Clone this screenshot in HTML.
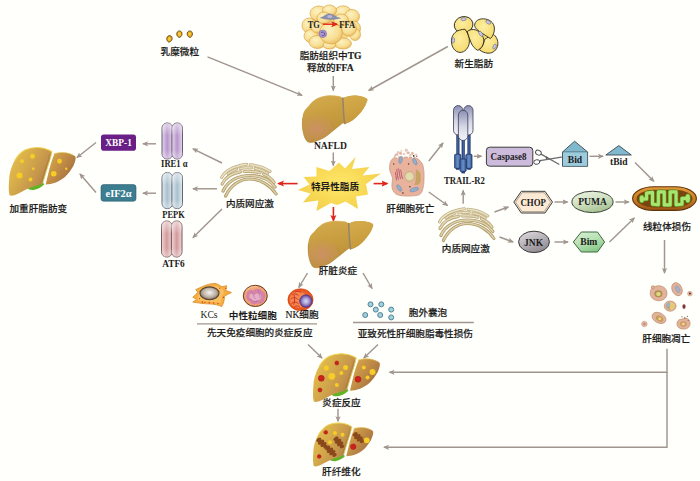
<!DOCTYPE html>
<html lang="zh">
<head>
<meta charset="utf-8">
<title>NAFLD 特异性脂质 机制示意图</title>
<style>
html,body{margin:0;padding:0;background:#fffffb;}
body{width:700px;height:481px;overflow:hidden;}
svg{display:block;}
.cn{font-family:"Liberation Sans","Noto Sans CJK SC",sans-serif;font-size:9.6px;font-weight:500;fill:#1c1c1c;stroke:#1c1c1c;stroke-width:0.18px;}
.cb{font-family:"Liberation Sans","Noto Sans CJK SC",sans-serif;font-size:9.6px;font-weight:700;fill:#1c1c1c;}
.la{font-family:"Liberation Serif","Noto Serif CJK SC",serif;font-size:9.6px;fill:#1c1c1c;}
.lb{font-family:"Liberation Serif","Noto Serif CJK SC",serif;font-size:9.6px;font-weight:bold;fill:#1c1c1c;}
.wb{font-family:"Liberation Serif",serif;font-size:10px;font-weight:bold;fill:#fff;}
.ga{stroke:#a1968f;stroke-width:1.45;fill:none;marker-end:url(#ag);}
.gl{stroke:#a1968f;stroke-width:1.3;fill:none;}
.ra{stroke:#e0261c;stroke-width:1.6;fill:none;marker-end:url(#ar);}
</style>
</head>
<body>
<svg width="700" height="481" viewBox="0 0 700 481">
<rect width="700" height="481" fill="#fffffb"/>
<defs>
<marker id="ag" markerWidth="8" markerHeight="8" refX="5" refY="3" orient="auto" markerUnits="userSpaceOnUse"><path d="M0,0.4 L6,3 L0,5.6 L1.3,3 Z" fill="#a1968f"/></marker>
<marker id="ar" markerWidth="8" markerHeight="8" refX="5.5" refY="3.5" orient="auto" markerUnits="userSpaceOnUse"><path d="M0,0.5 L7,3.5 L0,6.5 L1.4,3.5 Z" fill="#e0261c"/></marker>
<linearGradient id="gLiver" x1="0" y1="0" x2="0.35" y2="1">
<stop offset="0" stop-color="#d4ac4e"/><stop offset="0.45" stop-color="#c89e40"/><stop offset="1" stop-color="#b88e36"/>
</linearGradient>
<radialGradient id="gLiverPink" cx="0.22" cy="0.72" r="0.35">
<stop offset="0" stop-color="#cf9070" stop-opacity="0.75"/><stop offset="1" stop-color="#cf9070" stop-opacity="0"/>
</radialGradient>
<linearGradient id="gLobe" x1="0" y1="0" x2="0.3" y2="1">
<stop offset="0" stop-color="#d6ac4c"/><stop offset="1" stop-color="#c69a3c"/>
</linearGradient>
<linearGradient id="gFat" x1="0" y1="0" x2="1" y2="0.6">
<stop offset="0" stop-color="#eac64e"/><stop offset="0.4" stop-color="#d8ae4a"/><stop offset="0.75" stop-color="#c4944c"/><stop offset="1" stop-color="#aa7a42"/>
</linearGradient>
<linearGradient id="gFatL" x1="0" y1="0" x2="1" y2="0.7">
<stop offset="0" stop-color="#deb04a"/><stop offset="0.5" stop-color="#c28e46"/><stop offset="1" stop-color="#9e6a40"/>
</linearGradient>
<linearGradient id="gPurple" x1="0" y1="0" x2="1" y2="0"><stop offset="0" stop-color="#e4d6ec"/><stop offset="0.5" stop-color="#b896cc"/><stop offset="1" stop-color="#e4d6ec"/></linearGradient>
<linearGradient id="gBlueG" x1="0" y1="0" x2="1" y2="0"><stop offset="0" stop-color="#dfe9ee"/><stop offset="0.5" stop-color="#a9c0cd"/><stop offset="1" stop-color="#dfe9ee"/></linearGradient>
<linearGradient id="gPink" x1="0" y1="0" x2="1" y2="0"><stop offset="0" stop-color="#f0d6d6"/><stop offset="0.5" stop-color="#d49a9c"/><stop offset="1" stop-color="#f0d6d6"/></linearGradient>
<linearGradient id="gTrail" x1="0" y1="0" x2="0" y2="1">
<stop offset="0" stop-color="#8c90b4"/><stop offset="0.55" stop-color="#d6d8e6"/><stop offset="1" stop-color="#f4f4f8"/>
</linearGradient>
<linearGradient id="gTrailB" x1="0" y1="0" x2="1" y2="0">
<stop offset="0" stop-color="#3a5c9c"/><stop offset="0.5" stop-color="#6a90c8"/><stop offset="1" stop-color="#34548e"/>
</linearGradient>
<linearGradient id="gPuma" x1="0.2" y1="0" x2="0.7" y2="1"><stop offset="0" stop-color="#eaf2e0"/><stop offset="0.5" stop-color="#cfdfc0"/><stop offset="1" stop-color="#a4bf8e"/></linearGradient>
<linearGradient id="gJnk" x1="0.2" y1="0" x2="0.75" y2="1"><stop offset="0" stop-color="#dcd8de"/><stop offset="0.5" stop-color="#b4b0b6"/><stop offset="1" stop-color="#8a868c"/></linearGradient>
<radialGradient id="gStar" cx="0.5" cy="0.5" r="0.55">
<stop offset="0" stop-color="#ffe76a"/><stop offset="0.6" stop-color="#f8d955"/><stop offset="1" stop-color="#f1cf4c"/>
</radialGradient>
<radialGradient id="gFatCell" cx="0.4" cy="0.35" r="0.7">
<stop offset="0" stop-color="#fdf2c2"/><stop offset="0.65" stop-color="#f7de92"/><stop offset="1" stop-color="#eaba60"/>
</radialGradient>
<radialGradient id="gNew" cx="0.45" cy="0.4" r="0.7">
<stop offset="0" stop-color="#fdeea0"/><stop offset="1" stop-color="#f4d868"/>
</radialGradient>
<linearGradient id="gMito" x1="0" y1="0" x2="0" y2="1">
<stop offset="0" stop-color="#e09a38"/><stop offset="0.5" stop-color="#cc8026"/><stop offset="1" stop-color="#9a5414"/>
</linearGradient>
<radialGradient id="gKc" cx="0.5" cy="0.45" r="0.6">
<stop offset="0" stop-color="#f6f4f2"/><stop offset="0.55" stop-color="#c0b4a8"/><stop offset="1" stop-color="#74614e"/>
</radialGradient>
<radialGradient id="gNkN" cx="0.5" cy="0.5" r="0.5">
<stop offset="0" stop-color="#d8dcee"/><stop offset="0.5" stop-color="#a89cd4"/><stop offset="1" stop-color="#5a3890"/>
</radialGradient>
<radialGradient id="gNk" cx="0.5" cy="0.5" r="0.55">
<stop offset="0" stop-color="#f47a38"/><stop offset="0.8" stop-color="#ea5a22"/><stop offset="1" stop-color="#d84414"/>
</radialGradient>
<radialGradient id="gNeu" cx="0.5" cy="0.5" r="0.55">
<stop offset="0" stop-color="#f6c0a8"/><stop offset="0.8" stop-color="#f0a070"/><stop offset="1" stop-color="#e08848"/>
</radialGradient>
<filter id="fSoft" x="-20%" y="-20%" width="140%" height="140%"><feGaussianBlur stdDeviation="0.35"/></filter>
<linearGradient id="gPillV" x1="0" y1="0" x2="0" y2="1"><stop offset="0" stop-color="#fff" stop-opacity="0.55"/><stop offset="0.35" stop-color="#fff" stop-opacity="0"/><stop offset="0.75" stop-color="#fff" stop-opacity="0"/><stop offset="1" stop-color="#fff" stop-opacity="0.4"/></linearGradient>
<linearGradient id="gBim" x1="0.2" y1="0" x2="0.7" y2="1"><stop offset="0" stop-color="#d6efd2"/><stop offset="0.5" stop-color="#b4e0b0"/><stop offset="1" stop-color="#84c684"/></linearGradient>
</defs>
<g id="arrows">
<path class="ga" d="M207.5,56.8 L302,95.3"/>
<path class="ga" d="M333.3,76 L333.3,90.5"/>
<path class="ga" d="M447.8,46.5 L368.8,90.5"/>
<path class="ga" d="M333.3,152.5 L333.3,165.5"/>
<path class="ga" d="M222,163 L193,148.8"/>
<path class="ga" d="M217,188.8 L193,188.8"/>
<path class="ga" d="M222,209 L193,237.6"/>
<path class="ga" d="M156,143.8 L143,143.8"/>
<path class="ga" d="M156,193.2 L143,193.2"/>
<path class="ga" d="M96,142.5 L77,157.5"/>
<path class="ga" d="M96,192.5 L80,174"/>
<path class="ga" d="M428.8,161 L443,143"/>
<path class="ga" d="M428.8,192 L447.5,205.5"/>
<path class="ga" d="M463.2,203.8 L463.2,190.5"/>
<path class="ga" d="M473.8,156.3 L481.5,156.3"/>
<path class="ga" d="M589.5,156.3 L603,156.3"/>
<path class="ga" d="M635,162.5 L653.8,181.3"/>
<path class="ga" d="M554.5,202 L567.5,202"/>
<path class="ga" d="M615.5,202 L628.8,202"/>
<path class="ga" d="M494.5,212 L508.3,207"/>
<path class="ga" d="M499.5,237 L513,242"/>
<path class="ga" d="M554.5,242 L568,242"/>
<path class="ga" d="M609.5,242 L634.3,218"/>
<path class="ga" d="M664.5,240 L664.5,273"/>
<path class="ga" d="M307.5,273 L298.8,287.5"/>
<path class="ga" d="M363,273 L372,288.5"/>
<path class="ga" d="M308,344.5 L322,358"/>
<path class="ga" d="M378,344.5 L363.8,358"/>
<path class="ga" d="M338,408.8 L338,421.3"/>
<path class="ga" d="M667,348.8 L667,372.3 L389.5,372.3"/>
<path class="ga" d="M667,372 L667,447.3 L384,447.3"/>
<path class="gl" d="M197,323.8 L317,323.8"/>
<path class="gl" d="M353,322.5 L473.8,322.5"/>
</g>
<g id="redarrows">
<path class="ra" d="M297.6,183.6 L278.5,183.6"/>
<path class="ra" d="M373.6,183.6 L387,183.6"/>
<path class="ra" d="M333.4,207 L333.4,220.5"/>
</g>
<defs>
<g id="liverN">
<path d="M342.2,97.7 C340.5,96.6 339.5,96.3 338.4,96.2 C335,95.6 331.5,95.5 328.5,95.6 C326,95.8 323.4,96.2 321,96.9 C318.6,97.7 316.6,98.7 314.7,100 C312.2,101.7 310.2,103.8 308.5,106.2 C307.2,107.8 305.8,108.8 304.7,110.4 C303.8,112 303.2,113.4 302.9,115 C302.4,117 302.2,119 302.2,121.2 C302,125 302.4,129.5 303.5,133.7 C304,136 304.8,138.2 306,140 C306.9,141.4 308.2,142.2 309.7,142.4 C311.8,142.6 314,142 316,141.2 C318.6,140.3 321,139.2 323.5,138 C326.2,136.4 328.6,134.4 331,132.4 C333,130.8 335.2,129.1 337.2,127.5 C339,126 341,124.4 342.8,123 L344,123.7 L346,123.5 C348,122.8 350.2,121.8 352.2,120.6 C354.4,119 356.4,117 358.4,115 C360.2,113 361.9,110.9 363.4,108.7 C364.6,106.7 365.8,104.6 366.5,102.5 C367,101.4 367.5,100.4 367.4,99.4 C366.4,98 365,97.4 363.4,96.9 C361,96.2 358.5,95.8 356,95.6 C353.4,95.5 350.8,95.7 348.4,96.2 C346.6,96.6 345,97.3 343.4,98.1 Z" fill="url(#gLiver)"/>
<path d="M342.2,97.7 C340.5,96.6 339.5,96.3 338.4,96.2 C335,95.6 331.5,95.5 328.5,95.6 C326,95.8 323.4,96.2 321,96.9 C318.6,97.7 316.6,98.7 314.7,100 C312.2,101.7 310.2,103.8 308.5,106.2 C307.2,107.8 305.8,108.8 304.7,110.4 C303.8,112 303.2,113.4 302.9,115 C302.4,117 302.2,119 302.2,121.2 C302,125 302.4,129.5 303.5,133.7 C304,136 304.8,138.2 306,140 C306.9,141.4 308.2,142.2 309.7,142.4 C311.8,142.6 314,142 316,141.2 C318.6,140.3 321,139.2 323.5,138 C326.2,136.4 328.6,134.4 331,132.4 C333,130.8 335.2,129.1 337.2,127.5 C339,126 341,124.4 342.8,123 L344,123.7 L346,123.5 C348,122.8 350.2,121.8 352.2,120.6 C354.4,119 356.4,117 358.4,115 C360.2,113 361.9,110.9 363.4,108.7 C364.6,106.7 365.8,104.6 366.5,102.5 C367,101.4 367.5,100.4 367.4,99.4 C366.4,98 365,97.4 363.4,96.9 C361,96.2 358.5,95.8 356,95.6 C353.4,95.5 350.8,95.7 348.4,96.2 C346.6,96.6 345,97.3 343.4,98.1 Z" fill="url(#gLiverPink)"/>
<path d="M343.4,98.1 C345,97.3 346.6,96.6 348.4,96.2 C350.8,95.7 353.4,95.5 356,95.6 C358.5,95.8 361,96.2 363.4,96.9 C365,97.4 366.4,98 367.4,99.4 C367.5,100.4 367,101.4 366.5,102.5 C365.8,104.6 364.6,106.7 363.4,108.7 C361.9,110.9 360.2,113 358.4,115 C356.4,117 354.4,119 352.2,120.6 C350.2,121.8 348,122.8 346,123.5 L344.9,123.7 C344.4,122 344.1,120 344,118 C343.6,112 343.2,105 343.4,98.1 Z" fill="url(#gLobe)"/>
<path d="M302.6,118 C302,125 302.4,129.5 303.5,133.7 C304,136 304.8,138.2 306,140 C306.9,141.4 308.2,142.2 309.7,142.4 C311.8,142.6 314,142 316,141.2 C318.6,140.3 321,139.2 323.5,138 C326.2,136.4 328.6,134.4 331,132.4 C335,129.2 339,126 342.8,123" fill="none" stroke="#a47e2c" stroke-width="1" opacity="0.45"/>
<path d="M342.9,98 C343,105 343.6,112 344,118 C344.1,120 344.4,122 344.9,123.6" stroke="#94846c" stroke-width="1.5" fill="none" stroke-linecap="round"/>
<path d="M330.6,121.4 C332.6,124.6 333.8,127.4 334.2,129.8" stroke="#b38a38" stroke-width="0.7" fill="none" opacity="0.8"/>
<path d="M314.7,100 C318.6,97.4 323.4,96.2 328.5,95.8 C332,95.6 336,95.8 339.5,96.5" stroke="#dcb65c" stroke-width="0.8" fill="none" opacity="0.7"/>
</g>
</defs>
<g id="star">
<polygon points="355.6,157 352,169 369.4,167 362.5,175.5 381,173.6 366,184 368,194.4 356,196.5 358,209 345.5,201.5 337.5,205 331,203 316.4,211 318.5,200.5 303,202.4 310.5,193.5 298,190 309.5,184.5 303.6,177 316.5,176.5 316.4,167 329.5,171 339,162.4 345,168.5" fill="url(#gStar)"/>
</g>
<use href="#liverN"/>
<use href="#liverN" transform="translate(5.8,125.4)"/>
<defs>
<g id="pill2">
<rect x="0" y="0" width="10.6" height="36" rx="5" ry="5.2"/>
<rect x="9.9" y="0" width="10.6" height="36" rx="5" ry="5.2"/>
</g>
<g id="er">
<g fill="none" stroke-linecap="round">
<path d="M5,35.5 C10,25 19,18.5 29,18.5 C40,18.5 50,25 55.5,33.5" stroke="#ae9a68" stroke-width="3.2"/>
<path d="M5,35.5 C10,25 19,18.5 29,18.5 C40,18.5 50,25 55.5,33.5" stroke="#dccfa6" stroke-width="1.5"/>
<path d="M2.5,30.5 C7,20 18,15 29,15 C40,15 49,19 54.5,26.5" stroke="#b09c6c" stroke-width="3.2"/>
<path d="M2.5,30.5 C7,20 18,15 29,15 C40,15 49,19 54.5,26.5" stroke="#e0d4ac" stroke-width="1.5"/>
<path d="M1.5,23.5 C5,16.5 12,12.5 20,11.3" stroke="#b9a678" stroke-width="3.2"/>
<path d="M1.5,23.5 C5,16.5 12,12.5 20,11.3" stroke="#e4d9b4" stroke-width="1.5"/>
<path d="M23.5,11 C29,10.6 35,11 39.5,12.2" stroke="#b9a678" stroke-width="3.2"/>
<path d="M23.5,11 C29,10.6 35,11 39.5,12.2" stroke="#e4d9b4" stroke-width="1.5"/>
<path d="M43,13.5 C47.5,15.5 51,18.5 53.5,22" stroke="#b9a678" stroke-width="3.2"/>
<path d="M43,13.5 C47.5,15.5 51,18.5 53.5,22" stroke="#e4d9b4" stroke-width="1.5"/>
<path d="M7.5,13 C10,11 13,9.5 16,8.6" stroke="#bcaa7e" stroke-width="3"/>
<path d="M7.5,13 C10,11 13,9.5 16,8.6" stroke="#e8deba" stroke-width="1.5"/>
<path d="M19.5,8 C23,7.3 27,7.2 31,7.5" stroke="#bcaa7e" stroke-width="3"/>
<path d="M19.5,8 C23,7.3 27,7.2 31,7.5" stroke="#e8deba" stroke-width="1.5"/>
<path d="M34.5,8 C39,8.8 43.5,10.5 47,13" stroke="#bcaa7e" stroke-width="3"/>
<path d="M34.5,8 C39,8.8 43.5,10.5 47,13" stroke="#e8deba" stroke-width="1.5"/>
<path d="M1,17 C4.5,10.5 14,5.5 26,3.8" stroke="#bfae84" stroke-width="3"/>
<path d="M1,17 C4.5,10.5 14,5.5 26,3.8" stroke="#ece3c2" stroke-width="1.5"/>
<path d="M29.5,4.3 C37,4.8 44,7.3 49.5,11" stroke="#bfae84" stroke-width="3"/>
<path d="M29.5,4.3 C37,4.8 44,7.3 49.5,11" stroke="#ece3c2" stroke-width="1.5"/>
</g>
</g>
</defs>
<g id="receptors" stroke-width="0.95">
<use href="#pill2" x="162" y="123" fill="url(#gPurple)" stroke="#5e5468"/>
<use href="#pill2" x="162" y="172.6" fill="url(#gBlueG)" stroke="#566068"/>
<use href="#pill2" x="161.5" y="221" fill="url(#gPink)" stroke="#6e5052"/>
<use href="#pill2" x="162" y="123" fill="url(#gPillV)" stroke="none"/>
<use href="#pill2" x="162" y="172.6" fill="url(#gPillV)" stroke="none"/>
<use href="#pill2" x="161.5" y="221" fill="url(#gPillV)" stroke="none"/>
</g>
<g id="boxes">
<rect x="101" y="134.5" width="35" height="16.2" rx="2.8" fill="#6a1f86"/>
<text class="wb" x="118.6" y="146.2" text-anchor="middle" textLength="26.5" lengthAdjust="spacingAndGlyphs">XBP-1</text>
<rect x="101" y="184.6" width="35" height="16.6" rx="2.6" fill="#3c7e90" stroke="#2c5e6c" stroke-width="0.6"/>
<text class="wb" x="118.6" y="196.6" text-anchor="middle" textLength="26" lengthAdjust="spacingAndGlyphs">eIF2α</text>
</g>
<use href="#er" x="220.6" y="160.5"/>
<use href="#er" x="438.4" y="205"/>
<defs>
<g id="liverF">
<path d="M18.5,40.6 C22,39 28,37.4 34.4,35.2 L35.4,37 C33,39.6 29,41.8 24.6,42.4 C21.8,42.6 19.4,42 18.5,40.6 Z" fill="#62b226"/>
<path d="M0,40 C0.3,33 0.5,30 0.75,27.5 C2,21 4,16 6.25,12.5 C9,8 12.5,4.5 16.25,2.5 C20,0.8 24,0 28.75,0 C33,0 37.5,1.2 41.25,3 L43.25,4.5 C42,10 40.5,15 38.75,20 C37,25.5 35.5,30.5 34.25,35 C32.5,36.8 30.5,37.6 28.75,37.8 C25,38.6 22,39.8 18.75,41.25 C14,43.5 10,46 6.25,47.5 C3,48.6 1.5,48.4 0.75,47.5 C0.2,45 0,43 0,40 Z" fill="url(#gFat)"/>
<path transform="translate(0.7,0)" d="M45,6.25 C48,5.3 51,5 53.75,5 C57.5,5 61,6 63.75,7.5 C65.5,8.3 66.3,9.3 66.25,10.5 C66,13.5 65,16 63.75,18.75 C61.5,22.5 59,26 56.25,28.75 C53,31.5 50,33.5 46.25,35 C43,36.3 39.5,36.8 36.25,37 C37.5,31.5 38.8,26.5 40,21.25 C41.5,16 43,11 45,6.25 Z" fill="url(#gFatL)"/>
<path d="M6.25,12.5 C9,8 12.5,4.5 16.25,2.5 C20,0.8 24,0 28.75,0 C33,0 37.5,1.2 41.25,3 L43.25,4.5" fill="none" stroke="#eed450" stroke-width="1.1" stroke-linecap="round"/>
<path d="M45,6.25 C48,5.3 51,5 53.75,5 C57.5,5 61,6 63.75,7.5" fill="none" stroke="#e6c650" stroke-width="0.8" stroke-linecap="round" opacity="0.8"/>
<path d="M41.6,7 C40.6,11.4 39.2,16 37.6,20.6 C36,25.6 34.6,30.4 33.4,34.6" fill="none" stroke="#9c6e3a" stroke-width="2.4" opacity="0.35"/>
<path d="M43,5 C41.8,10.2 40.4,15.2 38.6,20.2 C36.9,25.6 35.4,30.6 34.1,35" fill="none" stroke="#e8de5c" stroke-width="0.9" opacity="0.85"/>
</g>
</defs>
<!-- 加重肝脂肪变 -->
<g transform="translate(8.75,147.5)">
<use href="#liverF"/>
<g fill="#f6cc28" filter="url(#fSoft)">
<circle cx="23.75" cy="8.75" r="2.4"/><circle cx="13.25" cy="13.75" r="2"/><circle cx="24.5" cy="21.25" r="1.3"/>
<circle cx="10.75" cy="28" r="3"/><circle cx="21.75" cy="32" r="2"/><circle cx="50.75" cy="13.75" r="2.4"/>
<circle cx="45" cy="26.25" r="2.8"/><circle cx="57.5" cy="21.25" r="1.2"/>
</g>
</g>
<!-- 炎症反应 -->
<g transform="translate(313,353.8)">
<use href="#liverF"/>
<g fill="#f6cc28" filter="url(#fSoft)">
<circle cx="13.3" cy="14.2" r="2.5"/><circle cx="32.5" cy="13.7" r="2.5"/><circle cx="18.8" cy="22.5" r="3.4"/>
<circle cx="28.3" cy="19.2" r="2"/><circle cx="23.8" cy="31.2" r="2"/><circle cx="50.8" cy="13.7" r="2"/>
<circle cx="59.5" cy="18.2" r="3"/><circle cx="54.5" cy="23.7" r="2"/>
</g>
<g fill="#cc241e" stroke="#a41616" stroke-width="0.5" filter="url(#fSoft)">
<circle cx="23.8" cy="9.2" r="2"/><circle cx="8.3" cy="24.5" r="3"/><circle cx="7" cy="36.2" r="2"/><circle cx="45" cy="25.5" r="3"/>
</g>
</g>
<!-- 肝纤维化 -->
<g transform="translate(313,423) scale(0.9)">
<use href="#liverF"/>
<g fill="#8a4a1a" filter="url(#fSoft)">
<path d="M-6,-1 C-5.2,-3.6 -3.4,-3.2 -2.6,-1.6 C-2,-4 0,-3.8 0.6,-1.8 C1.6,-3.8 3.6,-3.2 3.6,-1.2 C5.2,-2.6 6.8,-1 6.1,0.9 C5.4,3 3.8,3 3,1.5 C2.4,3.8 0.4,3.8 -0.2,1.8 C-1,4 -3.2,3.6 -3.4,1.6 C-4.8,3.2 -6.6,2 -6,-1 Z" transform="translate(10.2,22.4) rotate(42) scale(1.2)"/>
<path d="M-6,-1 C-5.2,-3.6 -3.4,-3.2 -2.6,-1.6 C-2,-4 0,-3.8 0.6,-1.8 C1.6,-3.8 3.6,-3.2 3.6,-1.2 C5.2,-2.6 6.8,-1 6.1,0.9 C5.4,3 3.8,3 3,1.5 C2.4,3.8 0.4,3.8 -0.2,1.8 C-1,4 -3.2,3.6 -3.4,1.6 C-4.8,3.2 -6.6,2 -6,-1 Z" transform="translate(20.1,31.5) rotate(42) scale(1.2)"/>
<path d="M-6,-1 C-5.2,-3.6 -3.4,-3.2 -2.6,-1.6 C-2,-4 0,-3.8 0.6,-1.8 C1.6,-3.8 3.6,-3.2 3.6,-1.2 C5.2,-2.6 6.8,-1 6.1,0.9 C5.4,3 3.8,3 3,1.5 C2.4,3.8 0.4,3.8 -0.2,1.8 C-1,4 -3.2,3.6 -3.4,1.6 C-4.8,3.2 -6.6,2 -6,-1 Z" transform="translate(28.9,21.6) rotate(48) scale(1.2)"/>
<path d="M-6,-1 C-5.2,-3.6 -3.4,-3.2 -2.6,-1.6 C-2,-4 0,-3.8 0.6,-1.8 C1.6,-3.8 3.6,-3.2 3.6,-1.2 C5.2,-2.6 6.8,-1 6.1,0.9 C5.4,3 3.8,3 3,1.5 C2.4,3.8 0.4,3.8 -0.2,1.8 C-1,4 -3.2,3.6 -3.4,1.6 C-4.8,3.2 -6.6,2 -6,-1 Z" transform="translate(50.6,16.3) rotate(42) scale(1.2)"/>
</g>
<g fill="#f6cc28" filter="url(#fSoft)">
<circle cx="24.4" cy="11.2" r="2.2"/><circle cx="32.8" cy="13" r="2.2"/><circle cx="18.9" cy="21.4" r="2.1"/><circle cx="59.7" cy="19.2" r="3.2"/>
</g>
<g fill="#cc241e" stroke="#a41616" stroke-width="0.5" filter="url(#fSoft)">
<circle cx="14.2" cy="10.3" r="2.1"/><circle cx="6.9" cy="37.2" r="2.1"/><circle cx="44.7" cy="26.4" r="3.1"/>
</g>
</g>
<!-- TRAIL-R2 receptor -->
<g id="trail" stroke="#3a3c58" stroke-width="0.8">
<g stroke="#1f3a72" stroke-width="3.2" fill="none">
<path d="M457.9,133 L457.9,155"/><path d="M469,133 L469,155"/><path d="M463.2,138 L463.2,160"/>
</g>
<g stroke="#5a7cb8" stroke-width="0.9" fill="none">
<path d="M457.9,133 L457.9,155"/><path d="M469,133 L469,155"/><path d="M463.2,138 L463.2,160"/>
</g>
<rect x="455.9" y="167.6" width="3.6" height="2.2" fill="#27437e" stroke="none"/>
<rect x="467.2" y="167.6" width="3.6" height="2.2" fill="#27437e" stroke="none"/>
<rect x="454.6" y="154.3" width="6.2" height="14" rx="0.9" fill="url(#gTrailB)" stroke="#1e3466"/>
<rect x="465.8" y="154.3" width="6.2" height="14" rx="0.9" fill="url(#gTrailB)" stroke="#1e3466"/>
<rect x="453.5" y="105.6" width="9.4" height="29.4" rx="4.7" fill="url(#gTrail)"/>
<rect x="463.8" y="105.6" width="9.2" height="29.4" rx="4.6" fill="url(#gTrail)"/>
<rect x="458.4" y="110.3" width="9.4" height="30.2" rx="4.7" fill="url(#gTrail)"/>
<rect x="461.4" y="171" width="3.6" height="2.4" fill="#27437e" stroke="none"/>
<rect x="460" y="159" width="6.2" height="12.4" rx="0.9" fill="url(#gTrailB)" stroke="#1e3466"/>
</g>
<!-- Caspase8 -->
<rect x="486.4" y="147.2" width="46.4" height="19" rx="3.2" fill="#cdbbdc" stroke="#3c3c3c" stroke-width="1"/>
<text class="lb" x="508.6" y="160.2" text-anchor="middle" textLength="36" lengthAdjust="spacingAndGlyphs">Caspase8</text>
<!-- scissors -->
<g id="scissors" fill="none" stroke="#4a4a4a" stroke-width="0.9" stroke-linecap="round">
<path d="M541.5,154.4 L558.9,164.2" stroke="#6a6a6a" stroke-width="1.3"/>
<path d="M540,160.6 L561.4,157.2" stroke="#6a6a6a" stroke-width="1.3"/>
<ellipse cx="538.4" cy="152.6" rx="3" ry="2.3" transform="rotate(28 538.4 152.6)" fill="#fff"/>
<ellipse cx="536.8" cy="162" rx="3.1" ry="2.3" transform="rotate(-12 536.8 162)" fill="#fff"/>
<circle cx="546.6" cy="157.8" r="0.6" fill="#4a4a4a"/>
</g>
<!-- Bid -->
<path d="M562.5,152 L574.6,141.2 L587.6,152 L587.6,166.3 L562.5,166.3 Z" fill="#80b9cd" stroke="#3a4850" stroke-width="0.9" stroke-linejoin="round"/>
<path d="M562.5,152 L587.6,152" stroke="#3a4850" stroke-width="0.7" fill="none"/>
<path d="M563,152.4 L587.1,152.4 L587.1,165.8 L563,165.8 Z" fill="#9ccbdb"/>
<text class="lb" x="575" y="163.3" text-anchor="middle">Bid</text>
<!-- tBid -->
<path d="M605.8,155 L618.8,145.6 L631.3,155 Z" fill="#80b9cd" stroke="#3a4850" stroke-width="0.9" stroke-linejoin="round"/>
<!-- CHOP -->
<path d="M513.8,202.1 L521.3,191.3 L545,191.3 L552.5,202.1 L545,213 L521.3,213 Z" fill="#fcead4" stroke="#3c3c3c" stroke-width="1" stroke-linejoin="round"/>
<path d="M515.6,202.1 L522.1,192.7 L544.2,192.7 L550.7,202.1 L544.2,211.6 L522.1,211.6 Z" fill="none" stroke="#6a625a" stroke-width="0.5"/>
<text class="lb" x="533.2" y="205.6" text-anchor="middle" textLength="25.5" lengthAdjust="spacingAndGlyphs">CHOP</text>
<!-- PUMA -->
<ellipse cx="592.5" cy="201.9" rx="20.6" ry="10.7" fill="url(#gPuma)" stroke="#3c4438" stroke-width="1"/>
<text class="lb" x="592.5" y="205.4" text-anchor="middle" textLength="28.5" lengthAdjust="spacingAndGlyphs">PUMA</text>
<!-- JNK -->
<ellipse cx="534" cy="241.9" rx="15.4" ry="10.7" fill="url(#gJnk)" stroke="#3c3838" stroke-width="1"/>
<text class="lb" x="533.6" y="245.6" text-anchor="middle" textLength="19" lengthAdjust="spacingAndGlyphs">JNK</text>
<!-- Bim -->
<path d="M573.3,242 L581.3,232 L597.5,232 L604.6,242 L597.5,252 L581.3,252 Z" fill="url(#gBim)" stroke="#3e6a40" stroke-width="1" stroke-linejoin="round"/>
<text class="lb" x="588.8" y="245.4" text-anchor="middle">Bim</text>
<!-- mitochondrion -->
<g id="mito">
<rect x="632.6" y="186.8" width="63.8" height="23.6" rx="21" ry="11.8" fill="url(#gMito)" stroke="#60340c" stroke-width="1.1"/>
<rect x="636.6" y="189.8" width="55.8" height="17.6" rx="17" ry="8.8" fill="#7a4410"/>
<g fill="none" stroke-linejoin="round" stroke-linecap="round">
<path d="M641.8,199 L646.6,199 L646.6,193 L652.5,192.4 L652.5,204.2 L658.4,204.7 L658.4,191.9 L664.3,191.7 L664.3,204.9 L670.2,204.9 L670.2,191.7 L676.1,191.9 L676.1,204.7 L682,204.2 L682,198.4 L687.6,198.4" stroke="#549c20" stroke-width="4.4"/>
<ellipse cx="641.8" cy="199" rx="2.8" ry="4.2" fill="#549c20" stroke="none"/>
<ellipse cx="687.8" cy="198.4" rx="2.9" ry="4.8" fill="#549c20" stroke="none"/>
<path d="M641.8,199 L646.6,199 L646.6,193 L652.5,192.4 L652.5,204.2 L658.4,204.7 L658.4,191.9 L664.3,191.7 L664.3,204.9 L670.2,204.9 L670.2,191.7 L676.1,191.9 L676.1,204.7 L682,204.2 L682,198.4 L687.6,198.4" stroke="#a8e470" stroke-width="3.1"/>
<ellipse cx="641.8" cy="199" rx="2.1" ry="3.5" fill="#a8e470" stroke="none"/>
<ellipse cx="687.8" cy="198.4" rx="2.2" ry="4.1" fill="#a8e470" stroke="none"/>
</g>
</g>
<!-- chylomicron droplets -->
<g fill="#f2b422" stroke="#5c4210" stroke-width="0.9">
<path d="M0,-3.1 C1.8,-3.1 2.7,-1.6 2.6,0 C2.5,1.8 1.2,3.1 0,3.3 C-1.2,3.1 -2.5,1.8 -2.6,0 C-2.7,-1.6 -1.8,-3.1 0,-3.1 Z" transform="translate(169.4,38.8) rotate(14)"/>
<path d="M0,-3.1 C1.8,-3.1 2.7,-1.6 2.6,0 C2.5,1.8 1.2,3.1 0,3.3 C-1.2,3.1 -2.5,1.8 -2.6,0 C-2.7,-1.6 -1.8,-3.1 0,-3.1 Z" transform="translate(179.4,34.1) rotate(4)"/>
<path d="M0,-3.1 C1.8,-3.1 2.7,-1.6 2.6,0 C2.5,1.8 1.2,3.1 0,3.3 C-1.2,3.1 -2.5,1.8 -2.6,0 C-2.7,-1.6 -1.8,-3.1 0,-3.1 Z" transform="translate(189.8,34.1) rotate(-4)"/>
</g>
<g fill="#fad04a"><circle cx="169.2" cy="38.8" r="1.1"/><circle cx="179.3" cy="34.1" r="1.1"/><circle cx="189.7" cy="34.1" r="1.1"/></g>
<!-- adipose tissue -->
<ellipse cx="331" cy="27" rx="22" ry="17" fill="#f3d684"/>
<g id="adipose" fill="url(#gFatCell)" stroke="#dca648" stroke-width="0.7">
<ellipse cx="319" cy="13.5" rx="9" ry="7.5"/>
<ellipse cx="343" cy="12.8" rx="8.5" ry="7"/>
<ellipse cx="352" cy="16.5" rx="7.5" ry="7"/>
<ellipse cx="309" cy="25.5" rx="7" ry="7.5"/>
<ellipse cx="353.5" cy="28.5" rx="7" ry="7.5"/>
<ellipse cx="311" cy="36" rx="7" ry="6.5"/>
<ellipse cx="355" cy="34.5" rx="5.5" ry="6"/>
<ellipse cx="329.5" cy="10.5" rx="7" ry="5.5"/>
<ellipse cx="317.5" cy="27" rx="6.5" ry="6"/>
<ellipse cx="317.5" cy="42" rx="8.5" ry="6.5"/>
<ellipse cx="343" cy="43.5" rx="8.5" ry="5.5"/>
<ellipse cx="349" cy="28.5" rx="7.5" ry="7.5"/>
<ellipse cx="329.5" cy="45" rx="6.5" ry="4"/>
<ellipse cx="331" cy="33" rx="11.5" ry="11"/>
<ellipse cx="324" cy="18" rx="7" ry="6"/>
<ellipse cx="341" cy="20" rx="7.5" ry="6"/>
</g>
<path d="M320.5,17.8 C324,16.8 326.5,13.6 329.6,13.8 C333,14 335,17 340.5,18.2 C336,19.2 333,19.4 329.8,19.4 C326,19.4 323.6,18.8 320.5,17.8 Z" fill="#8b90ae" stroke="#6e7496" stroke-width="0.4"/>
<ellipse cx="329.8" cy="16.6" rx="2.6" ry="1.5" fill="#b8bcd2"/>
<circle cx="322.8" cy="33.8" r="3.8" fill="#a898cc" stroke="#7c6cac" stroke-width="0.6"/>
<path d="M321,32.6 C322.4,31.6 324.6,32.2 324.8,34 C325,35.6 323,36.2 321.8,35.4" fill="none" stroke="#6650a0" stroke-width="1"/>
<text class="lb" x="313.8" y="28" text-anchor="middle" textLength="12" lengthAdjust="spacingAndGlyphs">TG</text>
<text class="lb" x="347.2" y="28" text-anchor="middle" textLength="15.8" lengthAdjust="spacingAndGlyphs">FFA</text>
<path d="M322.8,24.2 L336.8,24.2" class="ra" style="stroke-width:1.4"/>
<!-- new fat cells -->
<circle cx="482.5" cy="36" r="4.5" fill="#f4d868"/>
<g id="newfat" fill="url(#gNew)" stroke="#2e2a22" stroke-width="0.9" stroke-linejoin="round">
<ellipse cx="463.6" cy="24.8" rx="9.4" ry="8.2" transform="rotate(-12 463.6 24.8)"/>
<path d="M492.6,33.6 C496.4,36.2 498.4,40.4 497.8,45 C497,50 493,53.4 488,53.2 C484.6,53 481.6,51.6 479.4,49.8 C482.4,47 484,43.6 484.4,39.6 C487,38 490.4,35.6 492.6,33.6 Z"/>
<path d="M474.6,25.6 C474.6,21 479,18.6 483.4,18.8 C489.4,19 494,22.4 494.4,28 C494.6,32.2 493.2,36 490.4,38.6 C487.6,36.6 484,34.6 481.4,32.8 C478.4,30.8 475,28.6 474.6,25.6 Z"/>
<path d="M465,29.2 C467.4,32.6 469.8,37 469.4,42 C469,48 464.6,52.6 460,52.4 C455,52.2 451.4,47 451.4,41 C451.4,35.4 455,31.4 459.4,30.2 C461.4,29.6 463.2,29.2 465,29.2 Z"/>
<path d="M467.2,31.6 C469,29.6 473,28.8 476,30 C480.6,32 483.8,36.4 483.8,41 C483.6,45.4 481,48.6 477.8,50.4 C474.8,48.8 472.6,46.2 471.2,43 C469.6,39 468.2,35.2 467.2,31.6 Z"/>
</g>
<g fill="#c8c8ec" stroke="#5a5a78" stroke-width="0.5">
<ellipse cx="463.6" cy="19.2" rx="2.6" ry="1.5" transform="rotate(-8 463.6 19.2)"/>
<ellipse cx="488.2" cy="22.2" rx="2.7" ry="1.5" transform="rotate(32 488.2 22.2)"/>
<ellipse cx="453.2" cy="40.4" rx="1.4" ry="2.8" transform="rotate(6 453.2 40.4)"/>
<ellipse cx="480.8" cy="33.8" rx="1.5" ry="3" transform="rotate(-38 480.8 33.8)"/>
<ellipse cx="494.6" cy="46.6" rx="1.5" ry="2.7" transform="rotate(24 494.6 46.6)"/>
</g>
<g id="hepatocyte">
<path d="M390.3,162.4 C391.4,159.6 393,157.8 394.9,157.4 C396.2,158.4 397.2,158.2 398,157 C399.6,156.2 401.2,157.6 402.9,156.6 C404.6,157.8 406.2,156.4 408,157.2 C410,156.6 412,158.2 414.3,157.6 C416.6,158 418.8,159 420,161 C422.4,163 423.2,165.4 423.4,167.9 C424.2,171.6 424.2,175.4 424,179.3 C424,183.4 423.4,187.4 422.3,190.7 C421.4,193.4 419.8,194.8 417.7,195.3 C413,196.2 408,196.2 402.9,195.9 C400.4,195.8 398,195.2 396,194.1 C393.8,192.4 392.4,190 392,187.3 C391.6,184.2 392.4,181.2 392.6,178.1 C392,175.4 390.2,173 389.7,170.1 C389.4,167.4 389.6,164.8 390.3,162.4 Z" fill="#e8b29c" stroke="#c4947e" stroke-width="0.7"/>
<g fill="#fffffb"><path d="M396.4,156.6 l1.2,1.9 l1,-1.7 z"/><path d="M402.2,155.8 l1,2.2 l1.2,-1.9 z"/><path d="M407.4,156.2 l1,2 l1.1,-1.8 z"/><path d="M411.8,156.6 l1.1,2.1 l1,-1.6 z"/></g>
<!-- debris -->
<g fill="#e8b8a4" stroke="#c49a88" stroke-width="0.3"><ellipse cx="396.6" cy="154.6" rx="1.5" ry="1"/><ellipse cx="400.6" cy="153.4" rx="1.2" ry="1.4"/><ellipse cx="408.2" cy="152.8" rx="1.4" ry="1.1"/><ellipse cx="412.4" cy="153.4" rx="1.1" ry="1.3"/></g>
<g fill="#eccabc" stroke="#c8a898" stroke-width="0.3">
<circle cx="398.3" cy="152.4" r="1.1"/><circle cx="406.3" cy="150.2" r="1.3"/><circle cx="404" cy="154" r="0.9"/>
<circle cx="410.3" cy="155.3" r="1"/><circle cx="394.9" cy="156" r="0.9"/><circle cx="416" cy="154.6" r="0.8"/><circle cx="401.4" cy="150.8" r="0.6"/>
</g>
<circle cx="413.7" cy="155.9" r="0.9" fill="#4a3020"/><circle cx="416.8" cy="156.2" r="0.7" fill="#c03890"/>
<!-- nucleus -->
<circle cx="409.5" cy="176.4" r="4.9" fill="#ddd2a0" stroke="#b4a674" stroke-width="0.7"/>
<circle cx="409.5" cy="176.4" r="3.2" fill="#e6dcb4" opacity="0.9"/>
<!-- golgi -->
<path d="M416,169.6 C418.6,170.4 420.8,172.6 420.6,175.4 C420.4,177.6 421.4,180 420,182.4 C418.8,184.6 416.2,185.6 414.2,184.8 C415.6,182.8 415.4,180.6 415.8,178.2 C416.2,175.4 415.4,172.4 416,169.6 Z" fill="#c4a25e" opacity="0.9"/>
<!-- rough ER -->
<g fill="none" stroke="#b04a6a" stroke-width="0.8" stroke-dasharray="0.9 0.5" stroke-linecap="round">
<path d="M396.6,169.4 C397.6,172.6 397.2,176 398.4,179.2"/>
<path d="M398.4,168.8 C399.6,172 399.4,175.6 400.6,178.8"/>
<path d="M400.4,169.8 C401.6,172.6 401.4,176 402.6,178.6"/>
<path d="M395.4,172.4 C396,175 396,177.6 396.8,180.4"/>
</g>
<!-- mitochondria -->
<g fill="#94aecb" stroke="#6c8aac" stroke-width="0.5">
<ellipse cx="400.6" cy="160" rx="1.6" ry="3.6" transform="rotate(12 400.6 160)"/>
<ellipse cx="414.8" cy="161.6" rx="1.6" ry="3.6" transform="rotate(-28 414.8 161.6)"/>
<ellipse cx="399.2" cy="188" rx="1.7" ry="3.7" transform="rotate(-32 399.2 188)"/>
<ellipse cx="414.2" cy="189.6" rx="4.6" ry="1.8" transform="rotate(-18 414.2 189.6)"/>
</g>
<g fill="#4c2232">
<circle cx="393.7" cy="163.9" r="0.7"/><circle cx="408.6" cy="163.9" r="0.7"/><circle cx="409.9" cy="186.7" r="0.7"/><circle cx="402.9" cy="193" r="0.8"/>
</g>
</g>
<!-- Kupffer cell -->
<g id="kc">
<path d="M192.8,297.3 C194.6,295.4 196.4,294 197.6,292.5 C197.4,291.2 196.4,290.4 195.7,289.6 C198.6,288.4 201.6,287 204.4,285.7 C207.8,284.4 211.4,283.5 215,283.4 C217.6,283.8 219.8,285.4 221.8,286.7 C223.4,286.6 225,286 226.6,285.7 C226.4,287.4 225.8,289 225.6,290.5 C227.6,291.2 229.6,291.6 231.4,292.5 C229,293.6 226.6,294.8 224.6,296.3 C224.4,298.2 224.2,300.2 223.7,302.1 C223.2,303.6 222.6,305.2 221.8,306.5 C218.4,305.2 214.8,304.2 211.1,304 C207.2,303.9 203.4,303.8 199.6,303.1 C197.2,302.6 195,302.6 192.8,302.1 C194.2,301.2 195.6,300.2 196.7,299.2 C195.4,298.6 194,298 192.8,297.3 Z" fill="#f6ae42" stroke="#d88a24" stroke-width="0.8" stroke-linejoin="round"/>
<path d="M197.5,297.5 C200,291 207,286.4 215,286 C220,286.4 223,289 224,292 C222,297 221,300 220.5,303 C214,301.6 204,302 198,300.6 Z" fill="#f9c468" opacity="0.8"/>
<ellipse cx="209.5" cy="293.3" rx="9.5" ry="6.4" fill="url(#gKc)" stroke="#584636" stroke-width="1.1"/>
<g fill="#d83820"><circle cx="205" cy="302.4" r="0.6"/><circle cx="213.6" cy="302.9" r="0.6"/><circle cx="218" cy="303.4" r="0.6"/><circle cx="219.8" cy="288.2" r="0.6"/><circle cx="202.5" cy="302" r="0.7"/><circle cx="209.2" cy="302.8" r="0.7"/><circle cx="223.3" cy="297.3" r="0.7"/><circle cx="199.6" cy="298.6" r="0.6"/><circle cx="226" cy="288.4" r="0.6"/></g>
</g>
<!-- neutrophil -->
<g id="neutrophil" transform="translate(-0.2,-1.4)">
<ellipse cx="255.5" cy="297.3" rx="12" ry="10.6" fill="url(#gNeu)" stroke="#6e3c22" stroke-width="1"/>
<path d="M246.6,296.4 C246.8,292 250.6,290.4 253.4,292 C255.6,289.4 260.6,289.6 262.4,292.6 C265.6,293.4 266.6,297.6 264.6,300 C265,303.8 261,306.2 258,304.6 C255.6,306.8 251,306 250,303 C247,302 245.8,298.8 246.6,296.4 Z" fill="#cf7cac" opacity="0.85"/>
<path d="M249.6,297 C250.6,294.4 253.6,294.4 254.6,296.6 C256.4,294 260.4,294.4 261.2,297.2 C262.4,299.8 260,302.4 257.4,301.2 C255.8,303.4 252,303 251.4,300.4 C249.8,299.8 249.2,298.2 249.6,297 Z" fill="#e9b4cc" opacity="0.85"/>
<path d="M251.6,292.6 C254,295 253,298.4 256,300.4 M259,291.6 C258,294.6 261,296.4 260,299.6 M250,300.6 C252.6,301.6 254.6,303.6 257.6,303" fill="none" stroke="#b0609a" stroke-width="0.6" opacity="0.9"/>
<path d="M247,291.6 C249.6,288.6 253.6,287.6 257.6,288.2" fill="none" stroke="#f8c8a0" stroke-width="1.2" opacity="0.8" stroke-linecap="round"/>
</g>
<!-- NK cell -->
<g id="nk" transform="translate(0.6,0.9)">
<ellipse cx="299.9" cy="298.8" rx="12.6" ry="11" fill="url(#gNk)" stroke="#d04010" stroke-width="0.6"/>
<ellipse cx="297.6" cy="298.6" rx="8.6" ry="8.2" fill="#f4925c" opacity="0.75"/>
<g fill="none" stroke="#cc2418" stroke-width="0.8" stroke-linecap="round">
<path d="M291.6,294 C293.6,292.4 296,292.6 297.6,294.4"/>
<path d="M290.4,298 C292.6,296 295.6,296.4 297.4,298.6"/>
<path d="M291,302.6 C293,300.6 296,300.8 297.8,302.8"/>
<path d="M294,305.8 C295.6,304.6 297.6,304.8 299,306"/>
<path d="M294.6,291 C296.6,290 299,290.2 300.6,291.4"/>
<path d="M293.6,294.6 C294.4,297.6 294.2,300.6 293.2,303.4"/>
</g>
<circle cx="305.3" cy="300.2" r="6.3" fill="url(#gNkN)" stroke="#4a2a80" stroke-width="0.6"/>
</g>
<!-- extracellular vesicles -->
<g fill="#a0d0de" stroke="#3e7488" stroke-width="0.85">
<circle cx="370.5" cy="304.3" r="2.5"/><circle cx="381.3" cy="304.3" r="2.5"/><circle cx="375.8" cy="309.6" r="2.5"/>
<circle cx="391.2" cy="309.6" r="2.5"/><circle cx="365.2" cy="315" r="2.5"/><circle cx="380.2" cy="315" r="2.5"/><circle cx="391.2" cy="317.4" r="2.5"/>
</g>
<g id="apoptosis" stroke="#bc8c6e" stroke-width="0.7">
<path d="M651,289.6 C653.4,285.4 660,284.6 664,287.4 C667.4,289.8 668,294.8 665.4,298 C662.4,301.4 656,301.6 652.6,298.6 C650,296.2 649.6,292.4 651,289.6 Z" fill="#e2b39a"/>
<circle cx="652.8" cy="287.2" r="1.5" fill="#e2b39a"/>
<ellipse cx="658.4" cy="293.8" rx="3.8" ry="3.2" fill="#b89858" stroke="#9a7c40" stroke-width="0.5"/>
<ellipse cx="658.4" cy="294" rx="2.2" ry="2" fill="#e0dc80" stroke="none"/>
<ellipse cx="677" cy="289.2" rx="4.9" ry="6.8" transform="rotate(-24 677 289.2)" fill="#e2b39a"/>
<ellipse cx="677.6" cy="289.2" rx="2" ry="3.6" transform="rotate(-24 677.6 289.2)" fill="#a8b0c8" stroke="#8890b0" stroke-width="0.4"/>
<ellipse cx="670.2" cy="306.1" rx="5.9" ry="5.1" fill="#e2b39a"/>
<path d="M670.2,306.1 L670.2,302.2 A4.4,3.9 0 0 0 665.8,306.1 Z" fill="#9eb0c4" stroke="none"/>
<path d="M670.2,306.1 L665.8,306.1 A4.4,3.9 0 0 0 670.2,310 Z" fill="#b8a890" stroke="none"/>
<path d="M670.2,306.1 L670.2,302.2 A4.4,3.9 0 0 1 674.6,306.1 A4.4,3.9 0 0 1 670.2,310 Z" fill="#e4cc70" stroke="none"/>
<ellipse cx="659" cy="317.9" rx="7.4" ry="5" transform="rotate(28 659 317.9)" fill="#e2b39a"/>
<ellipse cx="659.6" cy="318.6" rx="3.6" ry="2.4" transform="rotate(28 659.6 318.6)" fill="#c8a060" stroke="#a88448" stroke-width="0.4"/>
<circle cx="659.8" cy="318.8" r="1.5" fill="#ecd870" stroke="none"/>
<path d="M677.4,321.6 C679,318.4 682,319.8 683.6,318.6 C685.6,317.2 688.6,318.6 689.6,321 C690.8,324 689.8,327.4 686.6,328.6 C683,329.8 678.8,328.8 677.4,326 C676.8,324.6 676.8,323 677.4,321.6 Z" fill="#e2b39a"/>
<ellipse cx="683.4" cy="324" rx="3" ry="2.4" fill="#d4a468" stroke="#b08850" stroke-width="0.4"/>
<circle cx="683.4" cy="324" r="1.3" fill="#f0e088" stroke="none"/>
<g fill="#584038" stroke="none"><circle cx="682" cy="316.8" r="0.55"/><circle cx="684.8" cy="317.9" r="0.55"/><circle cx="687.4" cy="316.2" r="0.55"/><circle cx="688.2" cy="320.2" r="0.5"/></g>
<circle cx="689.9" cy="293.7" r="2.4" fill="#e6bca6" stroke-width="0.4"/><circle cx="689.9" cy="293.4" r="1" fill="#6a2838" stroke="none"/>
<ellipse cx="684" cy="306.6" rx="1.5" ry="2.3" fill="#783040" stroke="#c09080" stroke-width="0.5"/>
<circle cx="644.4" cy="324" r="2.8" fill="#e4b8a4" stroke-width="0.4"/><circle cx="644.4" cy="324" r="1.2" fill="#c88c78" stroke="none"/>
</g>
<g id="labels" text-anchor="middle">
<text class="cn" x="179.8" y="55.4">乳糜微粒</text>
<text class="cn" x="330.6" y="59.1">脂肪组织中<tspan class="lb">TG</tspan></text>
<text class="cn" x="330.3" y="70.8">释放的<tspan class="lb">FFA</tspan></text>
<text class="cn" x="473.8" y="66.6">新生脂肪</text>
<text class="lb" x="330.4" y="148.8">NAFLD</text>
<text class="cb" x="335" y="189.6">特异性脂质</text>
<text class="cn" x="337.9" y="274.4">肝脏炎症</text>
<text class="cn" x="249.9" y="206.6">内质网应激</text>
<text class="lb" x="174.3" y="167.4" textLength="26.5" lengthAdjust="spacingAndGlyphs">IRE1 α</text>
<text class="lb" x="173.5" y="218.2" textLength="22.5" lengthAdjust="spacingAndGlyphs">PEPK</text>
<text class="lb" x="173.5" y="266.6" textLength="22.5" lengthAdjust="spacingAndGlyphs">ATF6</text>
<text class="cn" x="38.3" y="211.6">加重肝脂肪变</text>
<text class="cn" x="410.3" y="212.4">肝细胞死亡</text>
<text class="lb" x="464.4" y="183.8" textLength="41" lengthAdjust="spacingAndGlyphs">TRAIL-R2</text>
<text class="cn" x="465.8" y="251.6">内质网应激</text>
<text class="cn" x="667" y="230.1">线粒体损伤</text>
<text class="lb" x="618.8" y="165.2" textLength="17.5" lengthAdjust="spacingAndGlyphs">tBid</text>
<text class="cn" x="666.3" y="342.4">肝细胞凋亡</text>
<text class="la" x="209" y="318.2">KCs</text>
<text class="cb" x="252.8" y="318.6">中性粒细胞</text>
<text class="cn" x="302" y="318.2"><tspan class="la">NK</tspan>细胞</text>
<text class="cn" x="259.8" y="336.2">先天免疫细胞的炎症反应</text>
<text class="cn" x="428" y="315.6">胞外囊泡</text>
<text class="cn" x="415.3" y="337.4">亚致死性肝细胞脂毒性损伤</text>
<text class="cn" x="341.5" y="406.1">炎症反应</text>
<text class="cn" x="341.3" y="475.1">肝纤维化</text>
</g>
</svg>
</body>
</html>
